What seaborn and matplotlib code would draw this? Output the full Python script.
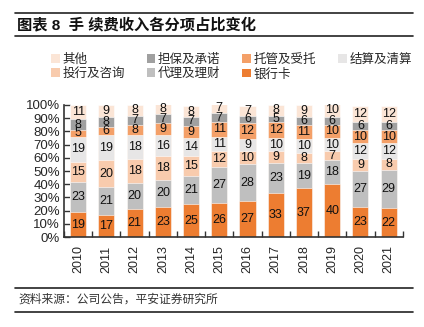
import matplotlib
matplotlib.use("Agg")
import matplotlib.pyplot as plt
import seaborn as sns
import numpy as np
import pandas as pd
from matplotlib.patches import Patch
from matplotlib.lines import Line2D

years = ["2010", "2011", "2012", "2013", "2014", "2015", "2016", "2017", "2018", "2019", "2020", "2021"]
# bottom to top
categories = ["银行卡", "代理及理财", "投行及咨询", "结算及清算", "托管及受托", "担保及承诺", "其他"]
yinhangka = [19, 17, 21, 23, 25, 26, 27, 33, 37, 40, 23, 22]
daili = [23, 21, 20, 20, 21, 27, 28, 23, 19, 18, 27, 29]
touhang = [15, 20, 18, 18, 15, 12, 10, 9, 8, 7, 9, 8]
jiesuan = [19, 19, 18, 16, 14, 11, 9, 10, 10, 10, 12, 12]
tuoguan = [5, 6, 8, 9, 9, 11, 12, 12, 11, 10, 10, 10]
danbao = [8, 8, 7, 7, 7, 7, 6, 5, 6, 6, 6, 6]
qita = [11, 9, 8, 8, 8, 7, 7, 8, 9, 10, 12, 12]
series = [yinhangka, daili, touhang, jiesuan, tuoguan, danbao, qita]
colors = ["#ED7D31", "#BFBFBF", "#F8CBAD", "#E7E6E6", "#F4A068", "#A0A0A0", "#FBE5D6"]

sns.set_style("ticks")
plt.rcParams['font.family'] = ['Liberation Sans', 'Noto Sans CJK SC', 'DejaVu Sans']

fig = plt.figure(figsize=(4.24, 3.27), dpi=100)
ax = fig.add_axes([0.151, 0.275, 0.799, 0.404])

vals = np.array(series, dtype=float)
cum = np.cumsum(vals, axis=0)
# draw from top cumulative down so lower layers overlay
for i in range(len(categories) - 1, -1, -1):
    df = pd.DataFrame({"year": years, "v": cum[i]})
    sns.barplot(data=df, x="year", y="v", color=colors[i], width=0.57,
                saturation=1, ax=ax, edgecolor="white", linewidth=0.4, errorbar=None)

for i in range(len(categories)):
    for j in range(len(years)):
        mid = cum[i][j] - vals[i][j] / 2
        ax.text(j, mid, f"{int(vals[i][j])}", ha="center", va="center", fontsize=9, color="#111111")

ax.set_xlim(-0.5, len(years) - 0.5)
ax.set_ylim(0, 100)
ax.set_yticks(np.arange(0, 101, 10))
ax.set_yticklabels([f"{v}%" for v in range(0, 101, 10)], fontsize=9.5)
ax.set_xticks(range(len(years)))
ax.set_xticklabels(years, rotation=90, fontsize=9)
ax.set_xlabel("")
ax.set_ylabel("")
ax.tick_params(axis="x", length=0, pad=6)
ax.set_xticks(np.arange(-0.5, len(years), 1), minor=True)
ax.tick_params(axis="x", which="minor", direction="in", length=4, width=1, color="#333333")
ax.tick_params(axis="y", direction="in", length=4, width=1, color="#333333", pad=3)
for s in ["top", "right"]:
    ax.spines[s].set_visible(False)
for s in ["left", "bottom"]:
    ax.spines[s].set_color("#333333")
    ax.spines[s].set_linewidth(1.2)

order = ["其他", "投行及咨询", "担保及承诺", "代理及理财", "托管及受托", "银行卡", "结算及清算"]
handles = [Patch(facecolor=colors[categories.index(c)], edgecolor="none", label=c) for c in order]
fig.legend(handles=handles, loc="upper left", bbox_to_anchor=(51 / 424, 1 - 54 / 327), ncol=4, frameon=False,
           fontsize=9, handlelength=0.7, handleheight=0.7, handletextpad=0.2,
           columnspacing=1.75, labelspacing=0.15, borderaxespad=0, borderpad=0)

# title and rules
fig.add_artist(Line2D([15 / 424, 413 / 424], [1 - 13 / 327] * 2, color="#222222", lw=1.2))
fig.add_artist(Line2D([15 / 424, 413 / 424], [1 - 36 / 327] * 2, color="#222222", lw=1.2))
fig.text(17 / 424, 1 - 25 / 327, "图表 8  手 续费收入各分项占比变化", fontsize=11, fontweight="bold",
         va="center", ha="left", color="#111111")
fig.add_artist(Line2D([15 / 424, 413 / 424], [1 - 288 / 327] * 2, color="#222222", lw=1.2))
fig.add_artist(Line2D([15 / 424, 413 / 424], [1 - 312 / 327] * 2, color="#222222", lw=1.2))
fig.text(18 / 424, 1 - 300 / 327, "资料来源：公司公告，平安证券研究所", fontsize=8.5,
         va="center", ha="left", color="#333333", style="italic")

fig.savefig("out.png", dpi=100)
